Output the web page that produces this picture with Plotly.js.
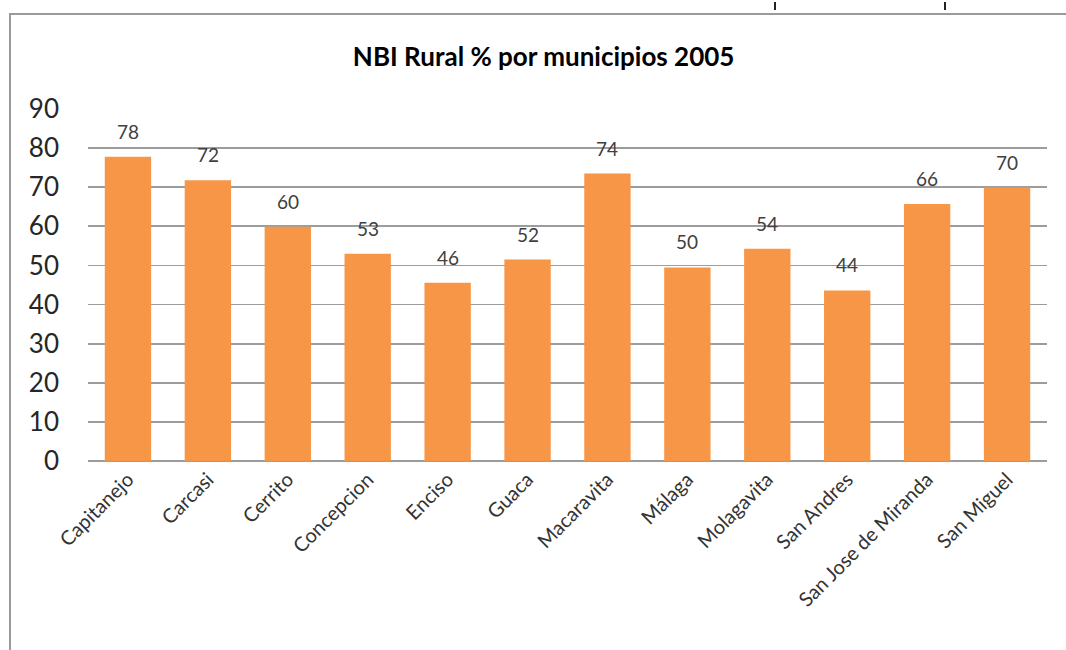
<!DOCTYPE html>
<html>
<head>
<meta charset="utf-8">
<script src="https://cdn.plot.ly/plotly-3.0.1.min.js"></script>
<style>
  html, body { margin: 0; padding: 0; background: #fff; }
  #wrap { position: relative; width: 1066px; height: 650px; overflow: hidden; }
  #chart { position: absolute; left: 0; top: 0; width: 1066px; height: 650px; }
  #frame { position: absolute; left: 9px; top: 13px; width: 1070px; height: 650px;
           border-top: 2px solid #9a9a9a; border-left: 2px solid #9a9a9a; pointer-events: none; }
  .tick { position: absolute; top: 2px; width: 2px; height: 8px; background: #222; }
</style>
</head>
<body>
<div id="wrap">
  <div id="chart"></div>
  <div id="frame"></div>
  <div class="tick" style="left:774px"></div>
  <div class="tick" style="left:944px"></div>
</div>
<script>
const municipios = ["Capitanejo", "Carcasi", "Cerrito", "Concepcion", "Enciso", "Guaca",
  "Macaravita", "Málaga", "Molagavita", "San Andres", "San Jose de Miranda", "San Miguel"];
const nbiRural = [77.8, 71.8, 59.9, 53.0, 45.6, 51.5, 73.5, 49.5, 54.3, 43.6, 65.7, 69.9];
const etiquetas = ["78", "72", "60", "53", "46", "52", "74", "50", "54", "44", "66", "70"];
const yTicks = [0, 10, 20, 30, 40, 50, 60, 70, 80, 90];

const trace = {
  type: "bar",
  x: municipios,
  y: nbiRural,
  marker: { color: "#F79646" },
  hoverinfo: "x+y"
};

const annotations = municipios.map((m, i) => ({
  x: m, y: nbiRural[i], xref: "x", yref: "y",
  text: etiquetas[i], showarrow: false,
  yanchor: "bottom", yshift: 12,
  font: { family: "Lato, 'Open Sans', sans-serif", size: 19, color: "#404040" }
}));

const layout = {
  width: 1066, height: 650,
  paper_bgcolor: "rgba(0,0,0,0)", plot_bgcolor: "rgba(0,0,0,0)",
  margin: { l: 88, r: 19, t: 109, b: 189 },
  bargap: 0.42,
  showlegend: false,
  title: {
    text: "<b>NBI Rural % por municipios 2005</b>",
    x: 0.51, xanchor: "center", y: 0.912, yanchor: "middle",
    font: { family: "Lato, 'Open Sans', sans-serif", size: 26, color: "#000" }
  },
  xaxis: {
    type: "category",
    tickangle: -45,
    tickfont: { family: "Lato, 'Open Sans', sans-serif", size: 20, color: "#333" },
    showgrid: false, showline: false, zeroline: false, ticks: "",
    ticklabelstandoff: 2
  },
  yaxis: {
    range: [0, 90],
    tickvals: yTicks,
    ticktext: yTicks.map(String),
    tickfont: { family: "Lato, 'Open Sans', sans-serif", size: 26, color: "#262626" },
    showgrid: true, gridcolor: "#9c9c9c", gridwidth: 1.8,
    zeroline: true, zerolinecolor: "#9c9c9c", zerolinewidth: 1.8,
    showline: false, ticks: "", ticklabelstandoff: 28
  },
  annotations: annotations
};

Plotly.newPlot("chart", [trace], layout, { displayModeBar: false, staticPlot: true });
</script>
</body>
</html>
